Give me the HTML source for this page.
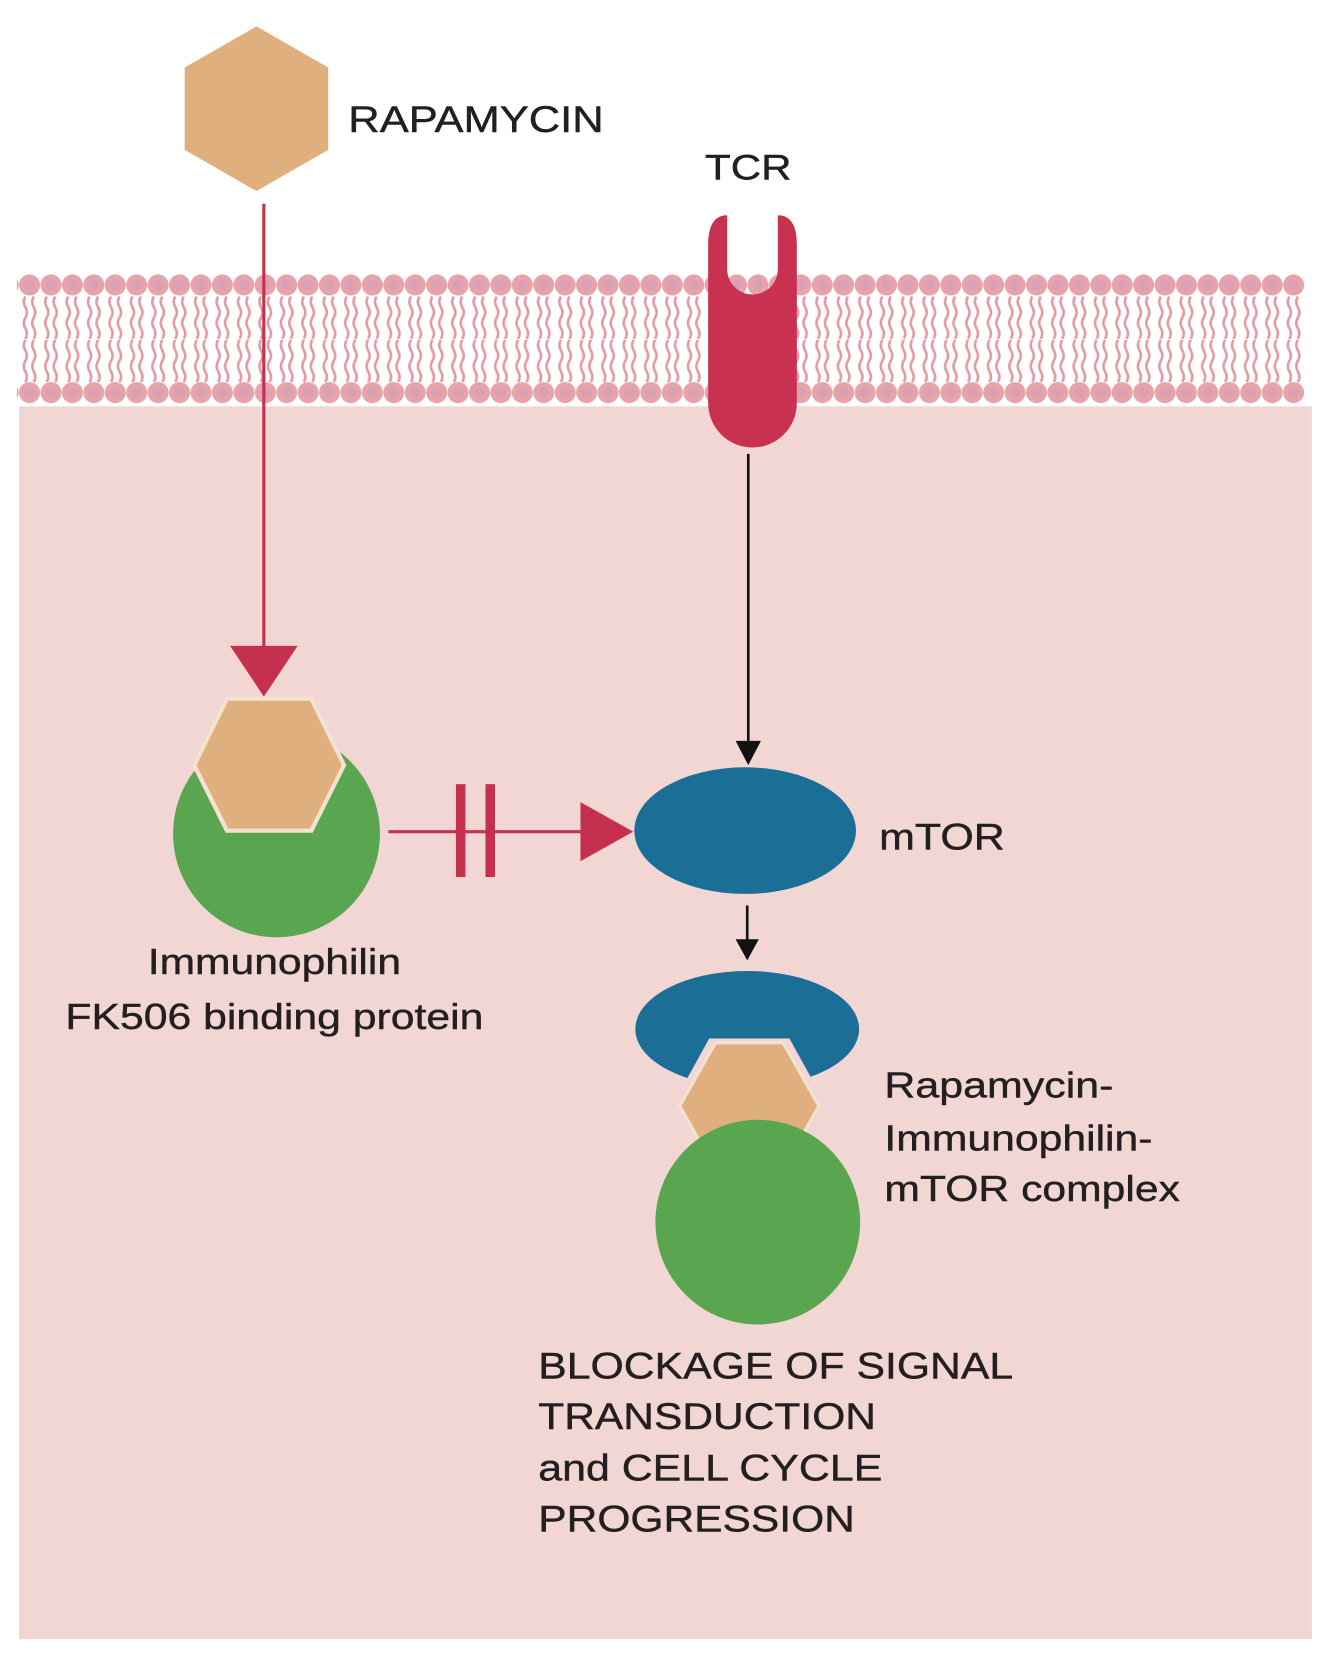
<!DOCTYPE html>
<html><head><meta charset="utf-8"><style>
html,body{margin:0;padding:0;background:#fff;}
svg{display:block;}
text{font-family:"Liberation Sans",Arial,sans-serif;fill:#231f20;stroke:#231f20;stroke-width:0.4;}
</style></head><body>
<svg width="1334" height="1658" viewBox="0 0 1334 1658" xmlns="http://www.w3.org/2000/svg">
<defs>
<pattern id="lip" x="18" y="0" width="20.3" height="1658" patternUnits="userSpaceOnUse">
  <circle cx="10" cy="270" r="10" fill="#e7a3aa"/>
  <circle cx="10" cy="270" r="5" fill="#d9a0b4"/>
  <path d="M6 281 q-3 5 0 10 q3 5 0 10 q-3 5 0 10 q3 5 0 10 M14 281 q-3 5 0 10 q3 5 0 10 q-3 5 0 10 q3 5 0 10" stroke="#e59aa3" stroke-width="2.5" fill="none"/>
  <path d="M6 322 q-3 5 0 10 q3 5 0 10 q-3 5 0 10 q3 5 0 10 M14 322 q-3 5 0 10 q3 5 0 10 q-3 5 0 10 q3 5 0 10" stroke="#e59aa3" stroke-width="2.5" fill="none"/>
  <circle cx="10" cy="372" r="10" fill="#e7a3aa"/>
  <circle cx="10" cy="372" r="5" fill="#d9a0b4"/>
</pattern>
</defs>
<g transform="scale(1.0554)">
<rect x="18" y="385" width="1225" height="1168" fill="#f2d6d4"/>
<rect x="16" y="258" width="1220" height="126" fill="url(#lip)"/>

<polygon points="243,25 311,64 311,142 243,181 175,142 175,64" fill="#dfb07d"/>
<text x="330" y="125" font-size="35" textLength="242" lengthAdjust="spacingAndGlyphs">RAPAMYCIN</text>
<line x1="250" y1="193" x2="250" y2="615" stroke="#c6304f" stroke-width="3"/>
<polygon points="218,612 282,612 250,660" fill="#c6304f"/>

<text x="668" y="170" font-size="33" textLength="82" lengthAdjust="spacingAndGlyphs">TCR</text>
<path d="M671,232 Q671,204 689,204 L689,255 A24,24 0 0 0 737,255 L737,204 Q755,204 755,232 L755,382 A42,42 0 0 1 671,382 Z" fill="#c8314f"/>
<line x1="709" y1="430" x2="709" y2="705" stroke="#111" stroke-width="2.5"/>
<polygon points="697,702 721,702 709,725" fill="#111"/>

<circle cx="262" cy="790" r="98" fill="#5aa550"/>
<polygon points="215,662 295,662 326,725 295,787 215,787 184,725" fill="#dfb07d" stroke="#f3e2cf" stroke-width="4"/>
<text x="140" y="923" font-size="34" textLength="240" lengthAdjust="spacingAndGlyphs">Immunophilin</text>
<text x="62" y="975" font-size="34" textLength="396" lengthAdjust="spacingAndGlyphs">FK506 binding protein</text>

<line x1="368" y1="788" x2="556" y2="788" stroke="#c6304f" stroke-width="3"/>
<rect x="432" y="743" width="9" height="88" fill="#c6304f"/>
<rect x="460" y="743" width="9" height="88" fill="#c6304f"/>
<polygon points="550,760 600,788 550,816" fill="#c6304f"/>

<ellipse cx="706" cy="787" rx="105" ry="60" fill="#1b6e96"/>
<text x="833" y="805" font-size="35" textLength="119" lengthAdjust="spacingAndGlyphs">mTOR</text>
<line x1="708" y1="858" x2="708" y2="895" stroke="#111" stroke-width="2.5"/>
<polygon points="697,890 719,890 708,910" fill="#111"/>

<ellipse cx="708" cy="975" rx="106" ry="55" fill="#1b6e96"/>
<polygon points="672,984 748,984 790,1060 745,1110 675,1110 630,1060" fill="#f2d6d4"/>
<polygon points="678,988 742,988 776,1048 742,1108 678,1108 644,1048" fill="#dfb07d" stroke="#f3e2cf" stroke-width="3"/>
<circle cx="718" cy="1158" r="97" fill="#5aa550"/>
<text x="838" y="1040" font-size="34" textLength="217" lengthAdjust="spacingAndGlyphs">Rapamycin-</text>
<text x="838" y="1090" font-size="34" textLength="254" lengthAdjust="spacingAndGlyphs">Immunophilin-</text>
<text x="838" y="1138" font-size="34" textLength="280" lengthAdjust="spacingAndGlyphs">mTOR complex</text>

<text x="510" y="1306" font-size="35" textLength="450" lengthAdjust="spacingAndGlyphs">BLOCKAGE OF SIGNAL</text>
<text x="510" y="1354" font-size="35" textLength="320" lengthAdjust="spacingAndGlyphs">TRANSDUCTION</text>
<text x="510" y="1403" font-size="35" textLength="326" lengthAdjust="spacingAndGlyphs">and CELL CYCLE</text>
<text x="510" y="1451" font-size="35" textLength="300" lengthAdjust="spacingAndGlyphs">PROGRESSION</text>
</g>
</svg>
</body></html>
